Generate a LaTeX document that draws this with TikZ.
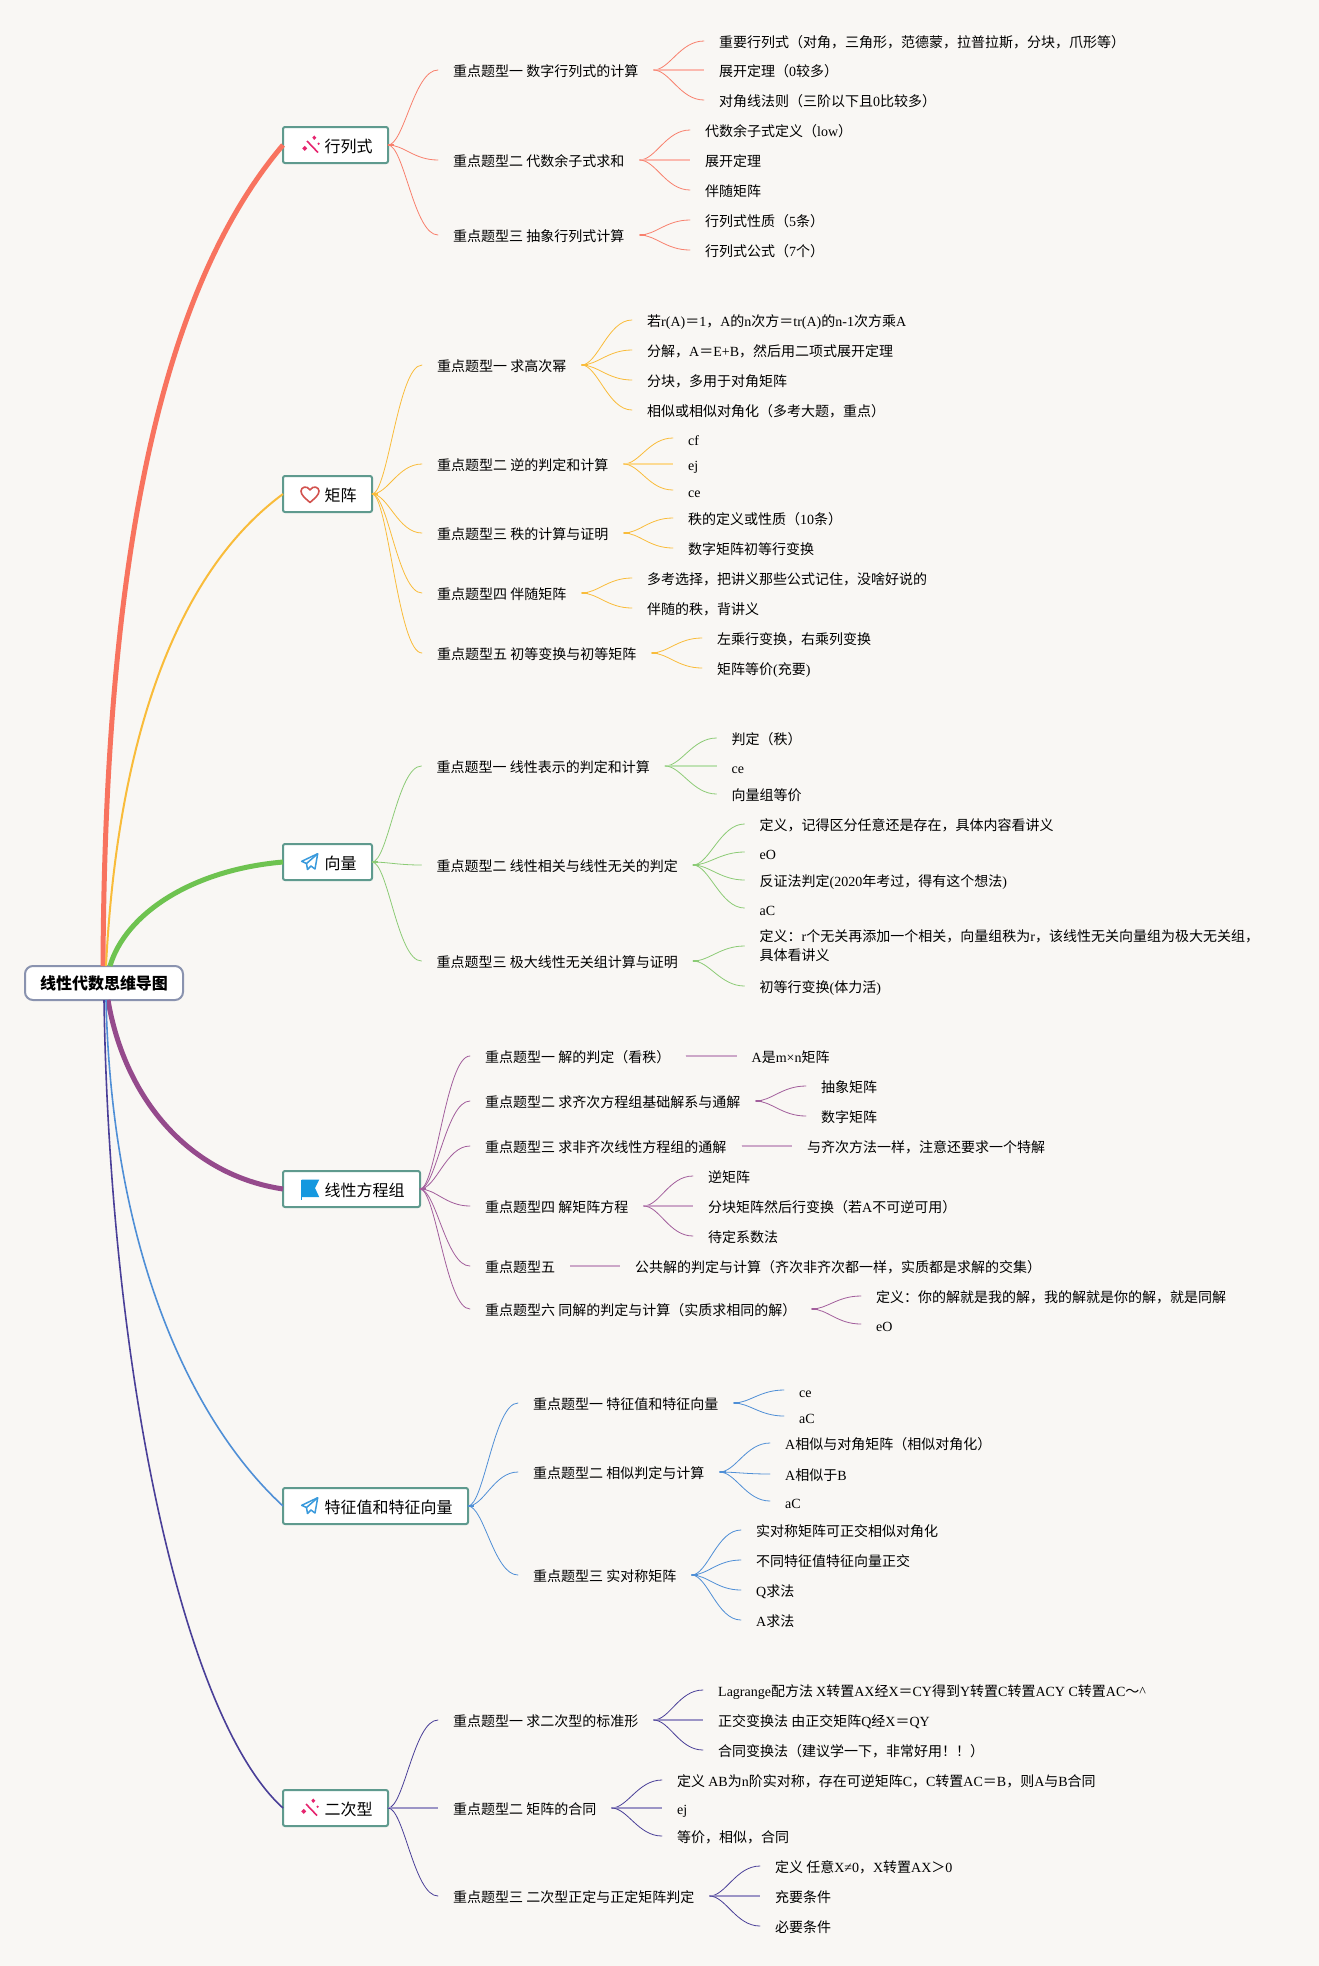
\documentclass[tikz,border=0pt]{standalone}
\usepackage{fontspec}
\setmainfont{Noto Sans CJK SC}
\newfontfamily\latfont{Liberation Serif}
\newcommand{\lat}[1]{{\latfont #1}}
\newcommand{\twigstrut}{\rule[-.5pt]{0pt}{15.5pt}}
\definecolor{paper}{HTML}{F9F7F4}
\definecolor{boxteal}{HTML}{5F9A8E}
\definecolor{rootedge}{HTML}{8A93AF}
\definecolor{detcol}{HTML}{F8806D}
\definecolor{matcol}{HTML}{F9BC3A}
\definecolor{veccol}{HTML}{8CCB76}
\definecolor{vecmain}{HTML}{6EC350}
\definecolor{syscol}{HTML}{A25E9C}
\definecolor{sysmain}{HTML}{954A8C}
\definecolor{eigcol}{HTML}{4F8FD6}
\definecolor{quacol}{HTML}{4A3F98}
\definecolor{redmain}{HTML}{F8735F}
\definecolor{wandpink}{HTML}{E6246E}
\definecolor{heartred}{HTML}{D2524E}
\definecolor{iconblue}{HTML}{3A9ADC}
\definecolor{flagblue}{HTML}{1598DF}
\tikzstyle{rootbox} = [draw=rootedge, line width=2pt, fill=white, rounded corners=8pt, minimum width=158pt, minimum height=34pt, inner sep=0pt, outer sep=0pt, font=\bfseries\fontsize{16}{19}\selectfont]
\tikzstyle{branchbox} = [draw=boxteal, line width=2pt, fill=white, rounded corners=2pt, anchor=west, minimum height=36pt, inner xsep=15.5pt, inner ysep=0pt, outer sep=0pt, text height=16pt, text depth=.5pt, font=\fontsize{16}{19}\selectfont]
\tikzstyle{twig} = [anchor=west, inner xsep=15pt, inner ysep=0pt, align=left, font=\fontsize{14}{19}\selectfont, execute at begin node=\twigstrut, execute at end node=\twigstrut]
\tikzstyle{link} = [line width=.8pt, line cap=round]
\tikzstyle{flatlink} = [line width=2pt]
\tikzstyle{stub} = [line width=2pt]
\tikzstyle{mainlink} = [line width=5pt]
\tikzset{
  wand/.pic={
    \draw[wandpink, line width=1.6pt] (-4,-4) -- (7,7.5);
    \fill[wandpink] (-6.3,0.8) -- ++(2.5,2.5) -- ++(-2.5,2.5) -- ++(-2.5,-2.5) -- cycle;
    \fill[wandpink] (3.3,-9.5) -- ++(2,2.2) -- ++(-2,2.2) -- ++(-2,-2.2) -- cycle;
    \fill[wandpink] (7.6,-2.6) -- ++(1.3,1.3) -- ++(-1.3,1.3) -- ++(-1.3,-1.3) -- cycle;
  },
  heart/.pic={
    \draw[heartred, line width=1.6pt, line join=round] (0,8.5) .. controls (-5,4) and (-9,1) .. (-9,-3) .. controls (-9,-7) and (-3,-9) .. (0,-4) .. controls (3,-9) and (9,-7) .. (9,-3) .. controls (9,1) and (5,4) .. (0,8.5) -- cycle;
  },
  plane/.pic={
    \draw[iconblue, line width=1.5pt, line join=round] (7.7,-8.3) -- (-8.3,-0.7) -- (-3.5,1.5) -- (-2.5,7.5) -- (1,4) -- (5,7) -- cycle;
    \draw[iconblue, line width=1.5pt] (7.7,-8.3) -- (-3.5,1.5);
  },
  flagmark/.pic={
    \fill[flagblue] (-8.2,-9.5) -- (9.3,-9.5) -- (5,-1) -- (9.3,8.2) -- (-8.2,8.2) -- cycle;
    \draw[flagblue, line width=1pt] (-8.7,-9.5) -- (-8.7,11);
  }
}
\newdimen\parenty
\newcommand{\fanout}[4]{%
  \pgfextracty{\parenty}{\pgfpointanchor{#2}{east}}%
  \draw[stub,#1] (#2.east) -- ++(6,0);
  \foreach \nodeid/\posy/\txt in {#4} {
    \node[twig] (\nodeid) at (#3,\posy) {\txt};
    \pgfmathsetmacro{\gap}{abs(\posy+\parenty)}
    \ifdim\gap pt<.1pt
      \draw[flatlink,#1!55] (#2.east) -- (\nodeid.west);
    \else
      \draw[link,#1] (#2.east) .. controls +(16,0) and +(-24,0) .. (\nodeid.west);
    \fi
  }
}
\begin{document}
\begin{tikzpicture}[x=1pt,y=-1pt]
  \fill[paper] (0,0) rectangle (1319,1966);
  \useasboundingbox (0,0) rectangle (1319,1966);

  \node[rootbox] (root) at (104,983) {线性代数思维导图};

  \node[branchbox] (det) at (283,145) {\hspace*{26pt}行列式};
  \pic at ([xshift=28pt]det.west) {wand};
  \node[branchbox] (mat) at (283,494) {\hspace*{26pt}矩阵};
  \pic at ([xshift=27pt]mat.west) {heart};
  \node[branchbox] (vec) at (283,862) {\hspace*{26pt}向量};
  \pic at ([xshift=27pt]vec.west) {plane};
  \node[branchbox] (sys) at (283,1189) {\hspace*{26pt}线性方程组};
  \pic at ([xshift=27pt]sys.west) {flagmark};
  \node[branchbox] (eig) at (283,1506) {\hspace*{26pt}特征值和特征向量};
  \pic at ([xshift=27pt]eig.west) {plane};
  \node[branchbox] (qua) at (283,1808) {\hspace*{26pt}二次型};
  \pic at ([xshift=27pt]qua.west) {wand};

  \draw[mainlink,redmain] ([xshift=-1pt]root.north) .. controls (105,560) and (160,290) .. (det.west);
  \draw[line width=2pt,matcol] ([xshift=2pt]root.north) .. controls (118,730) and (180,570) .. (mat.west);
  \draw[mainlink,vecmain] ([xshift=6pt]root.north) .. controls (125,915) and (190,870) .. (vec.west);
  \draw[mainlink,sysmain] ([xshift=4pt]root.south) .. controls (125,1100) and (190,1175) .. (sys.west);
  \draw[line width=1.6pt,eigcol] ([xshift=2pt]root.south) .. controls (112,1250) and (190,1420) .. (eig.west);
  \draw[line width=1.6pt,quacol] (root.south) .. controls (110,1380) and (185,1720) .. (qua.west);

  \fanout{detcol}{det}{438}{det1/70/重点题型一 数字行列式的计算, det2/160/重点题型二 代数余子式求和, det3/235/重点题型三 抽象行列式计算}
  \fanout{detcol}{det1}{704}{det11/41/重要行列式（对角，三角形，范德蒙，拉普拉斯，分块，爪形等）, det12/70/展开定理（\lat{0}较多）, det13/100/对角线法则（三阶以下且\lat{0}比较多）}
  \fanout{detcol}{det2}{690}{det21/130/代数余子式定义（\lat{low}）, det22/160/展开定理, det23/190/伴随矩阵}
  \fanout{detcol}{det3}{690}{det31/220/行列式性质（\lat{5}条）, det32/250/行列式公式（\lat{7}个）}

  \fanout{matcol}{mat}{422}{mat1/365/重点题型一 求高次幂, mat2/464/重点题型二 逆的判定和计算, mat3/533/重点题型三 秩的计算与证明, mat4/593/重点题型四 伴随矩阵, mat5/653/重点题型五 初等变换与初等矩阵}
  \fanout{matcol}{mat1}{632}{mat11/320/若\lat{r(A)}＝\lat{1}，\lat{A}的\lat{n}次方＝\lat{tr(A)}的\lat{n-1}次方乘\lat{A}, mat12/350/分解，\lat{A}＝\lat{E+B}，然后用二项式展开定理, mat13/380/分块，多用于对角矩阵, mat14/410/相似或相似对角化（多考大题，重点）}
  \fanout{matcol}{mat2}{673}{mat21/438/\lat{cf}, mat22/464/\lat{ej}, mat23/490/\lat{ce}}
  \fanout{matcol}{mat3}{673}{mat31/518/秩的定义或性质（\lat{10}条）, mat32/548/数字矩阵初等行变换}
  \fanout{matcol}{mat4}{632}{mat41/578/多考选择，把讲义那些公式记住，没啥好说的, mat42/608/伴随的秩，背讲义}
  \fanout{matcol}{mat5}{702}{mat51/638/左乘行变换，右乘列变换, mat52/668/矩阵等价\lat{(}充要\lat{)}}

  \fanout{veccol}{vec}{421.5}{vec1/766/重点题型一 线性表示的判定和计算, vec2/865/重点题型二 线性相关与线性无关的判定, vec3/961/重点题型三 极大线性无关组计算与证明}
  \fanout{veccol}{vec1}{716.5}{vec11/738/判定（秩）, vec12/766/\lat{ce}, vec13/794/向量组等价}
  \fanout{veccol}{vec2}{744.5}{vec21/824/定义，记得区分任意还是存在，具体内容看讲义, vec22/852/\lat{eO}, vec23/880/反证法判定\lat{(2020}年考过，得有这个想法\lat{)}, vec24/908/\lat{aC}}
  \fanout{veccol}{vec3}{744.5}{vec31/946/定义：\lat{r}个无关再添加一个相关，向量组秩为\lat{r}，该线性无关向量组为极大无关组，\\具体看讲义, vec32/986/初等行变换\lat{(}体力活\lat{)}}

  \fanout{syscol}{sys}{470}{sys1/1056/重点题型一 解的判定（看秩）, sys2/1101/重点题型二 求齐次方程组基础解系与通解, sys3/1146/重点题型三 求非齐次线性方程组的通解, sys4/1206/重点题型四 解矩阵方程, sys5/1266/重点题型五, sys6/1309/重点题型六 同解的判定与计算（实质求相同的解）}
  \fanout{syscol}{sys1}{736.5}{sys11/1056/\lat{A}是\lat{m×n}矩阵}
  \fanout{syscol}{sys2}{806}{sys21/1086/抽象矩阵, sys22/1116/数字矩阵}
  \fanout{syscol}{sys3}{792}{sys31/1146/与齐次方法一样，注意还要求一个特解}
  \fanout{syscol}{sys4}{693}{sys41/1176/逆矩阵, sys42/1206/分块矩阵然后行变换（若\lat{A}不可逆可用）, sys43/1236/待定系数法}
  \fanout{syscol}{sys5}{620}{sys51/1266/公共解的判定与计算（齐次非齐次都一样，实质都是求解的交集）}
  \fanout{syscol}{sys6}{861}{sys61/1296/定义：你的解就是我的解，我的解就是你的解，就是同解, sys62/1324/\lat{eO}}

  \fanout{eigcol}{eig}{518}{eig1/1403/重点题型一 特征值和特征向量, eig2/1472/重点题型二 相似判定与计算, eig3/1575/重点题型三 实对称矩阵}
  \fanout{eigcol}{eig1}{784}{eig11/1390/\lat{ce}, eig12/1416/\lat{aC}}
  \fanout{eigcol}{eig2}{770}{eig21/1443/\lat{A}相似与对角矩阵（相似对角化）, eig22/1474/\lat{A}相似于\lat{B}, eig23/1501/\lat{aC}}
  \fanout{eigcol}{eig3}{741}{eig31/1530/实对称矩阵可正交相似对角化, eig32/1560/不同特征值特征向量正交, eig33/1590/\lat{Q}求法, eig34/1620/\lat{A}求法}

  \fanout{quacol}{qua}{438}{qua1/1720/重点题型一 求二次型的标准形, qua2/1808/重点题型二 矩阵的合同, qua3/1896/重点题型三 二次型正定与正定矩阵判定}
  \fanout{quacol}{qua1}{703}{qua11/1690/\lat{Lagrange}配方法 \lat{X}转置\lat{AX}经\lat{X}＝\lat{CY}得到\lat{Y}转置\lat{C}转置\lat{ACY C}转置\lat{AC}～\lat{\symbol{94}}, qua12/1720/正交变换法 由正交矩阵\lat{Q}经\lat{X}＝\lat{QY}, qua13/1750/合同变换法（建议学一下，非常好用！！）}
  \fanout{quacol}{qua2}{662}{qua21/1780/定义 \lat{AB}为\lat{n}阶实对称，存在可逆矩阵\lat{C}，\lat{C}转置\lat{AC}＝\lat{B}，则\lat{A}与\lat{B}合同, qua22/1808/\lat{ej}, qua23/1836/等价，相似，合同}
  \fanout{quacol}{qua3}{760}{qua31/1866/定义 任意\lat{X≠0}，\lat{X}转置\lat{AX}＞\lat{0}, qua32/1896/充要条件, qua33/1926/必要条件}
\end{tikzpicture}
\end{document}
